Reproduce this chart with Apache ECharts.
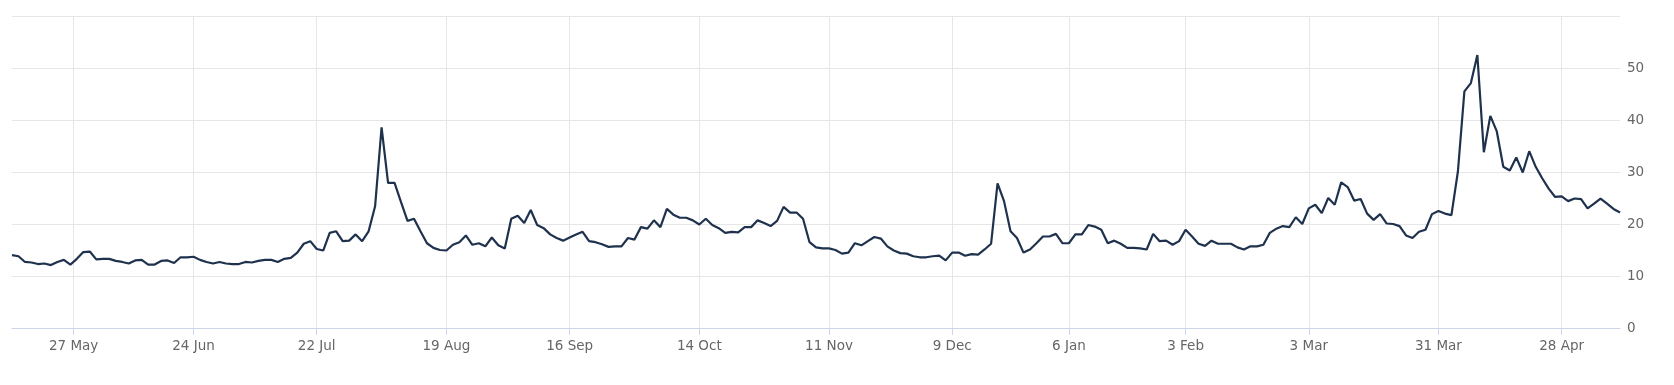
<!DOCTYPE html>
<html>
<head>
<meta charset="utf-8">
<script src="https://cdn.jsdelivr.net/npm/echarts@6/dist/echarts.min.js"></script>
<style>
  html, body { margin: 0; padding: 0; background: #ffffff; }
  #chart { width: 1674px; height: 385px; }
</style>
</head>
<body>
<div id="chart"></div>
<script>
// Trading days (categories)
const tradingDays = [
  "2024-05-13","2024-05-14","2024-05-15","2024-05-16","2024-05-17","2024-05-20","2024-05-21","2024-05-22","2024-05-23","2024-05-24","2024-05-28","2024-05-29","2024-05-30","2024-05-31",
  "2024-06-03","2024-06-04","2024-06-05","2024-06-06","2024-06-07","2024-06-10","2024-06-11","2024-06-12","2024-06-13","2024-06-14","2024-06-17","2024-06-18","2024-06-20","2024-06-21","2024-06-24","2024-06-25","2024-06-26","2024-06-27","2024-06-28",
  "2024-07-01","2024-07-02","2024-07-03","2024-07-05","2024-07-08","2024-07-09","2024-07-10","2024-07-11","2024-07-12","2024-07-15","2024-07-16","2024-07-17","2024-07-18","2024-07-19","2024-07-22","2024-07-23","2024-07-24","2024-07-25","2024-07-26","2024-07-29","2024-07-30","2024-07-31",
  "2024-08-01","2024-08-02","2024-08-05","2024-08-06","2024-08-07","2024-08-08","2024-08-09","2024-08-12","2024-08-13","2024-08-14","2024-08-15","2024-08-16","2024-08-19","2024-08-20","2024-08-21","2024-08-22","2024-08-23","2024-08-26","2024-08-27","2024-08-28","2024-08-29","2024-08-30",
  "2024-09-03","2024-09-04","2024-09-05","2024-09-06","2024-09-09","2024-09-10","2024-09-11","2024-09-12","2024-09-13","2024-09-16","2024-09-17","2024-09-18","2024-09-19","2024-09-20","2024-09-23","2024-09-24","2024-09-25","2024-09-26","2024-09-27","2024-09-30",
  "2024-10-01","2024-10-02","2024-10-03","2024-10-04","2024-10-07","2024-10-08","2024-10-09","2024-10-10","2024-10-11","2024-10-14","2024-10-15","2024-10-16","2024-10-17","2024-10-18","2024-10-21","2024-10-22","2024-10-23","2024-10-24","2024-10-25","2024-10-28","2024-10-29","2024-10-30","2024-10-31",
  "2024-11-01","2024-11-04","2024-11-05","2024-11-06","2024-11-07","2024-11-08","2024-11-11","2024-11-12","2024-11-13","2024-11-14","2024-11-15","2024-11-18","2024-11-19","2024-11-20","2024-11-21","2024-11-22","2024-11-25","2024-11-26","2024-11-27","2024-11-29",
  "2024-12-02","2024-12-03","2024-12-04","2024-12-05","2024-12-06","2024-12-09","2024-12-10","2024-12-11","2024-12-12","2024-12-13","2024-12-16","2024-12-17","2024-12-18","2024-12-19","2024-12-20","2024-12-23","2024-12-24","2024-12-26","2024-12-27","2024-12-30","2024-12-31",
  "2025-01-02","2025-01-03","2025-01-06","2025-01-07","2025-01-08","2025-01-10","2025-01-13","2025-01-14","2025-01-15","2025-01-16","2025-01-17","2025-01-21","2025-01-22","2025-01-23","2025-01-24","2025-01-27","2025-01-28","2025-01-29","2025-01-30","2025-01-31",
  "2025-02-03","2025-02-04","2025-02-05","2025-02-06","2025-02-07","2025-02-10","2025-02-11","2025-02-12","2025-02-13","2025-02-14","2025-02-18","2025-02-19","2025-02-20","2025-02-21","2025-02-24","2025-02-25","2025-02-26","2025-02-27","2025-02-28",
  "2025-03-03","2025-03-04","2025-03-05","2025-03-06","2025-03-07","2025-03-10","2025-03-11","2025-03-12","2025-03-13","2025-03-14","2025-03-17","2025-03-18","2025-03-19","2025-03-20","2025-03-21","2025-03-24","2025-03-25","2025-03-26","2025-03-27","2025-03-28","2025-03-31",
  "2025-04-01","2025-04-02","2025-04-03","2025-04-04","2025-04-07","2025-04-08","2025-04-09","2025-04-10","2025-04-11","2025-04-14","2025-04-15","2025-04-16","2025-04-17","2025-04-21","2025-04-22","2025-04-23","2025-04-24","2025-04-25","2025-04-28","2025-04-29","2025-04-30",
  "2025-05-01","2025-05-02","2025-05-05","2025-05-06","2025-05-07","2025-05-08","2025-05-09"
];

// Series values
const values = [
  14.0,13.8,12.7,12.6,12.3,12.4,12.1,12.7,13.1,12.2,13.3,14.6,14.7,13.2,
  13.3,13.3,12.9,12.7,12.4,13.0,13.1,12.2,12.2,12.9,13.0,12.5,13.6,13.6,13.7,13.1,12.7,12.4,12.7,
  12.4,12.3,12.3,12.7,12.6,12.9,13.1,13.1,12.7,13.3,13.5,14.5,16.2,16.7,15.2,14.9,18.3,18.6,16.7,16.8,18.0,16.7,
  18.6,23.4,38.6,27.9,27.9,24.2,20.6,21.0,18.6,16.3,15.4,15.0,14.9,16.0,16.5,17.8,16.0,16.3,15.7,17.4,15.9,15.3,
  21.0,21.6,20.2,22.7,19.8,19.2,18.0,17.3,16.8,17.4,18.0,18.5,16.7,16.5,16.1,15.6,15.7,15.7,17.3,17.0,
  19.4,19.1,20.7,19.4,22.9,21.8,21.2,21.2,20.7,19.9,21.0,19.8,19.2,18.3,18.5,18.4,19.4,19.4,20.7,20.2,19.6,20.6,23.3,
  22.2,22.2,21.0,16.5,15.5,15.3,15.3,15.0,14.3,14.5,16.3,15.9,16.7,17.5,17.2,15.7,14.9,14.4,14.3,13.8,
  13.6,13.6,13.8,13.9,13.0,14.5,14.5,13.9,14.2,14.1,15.1,16.2,27.8,24.4,18.6,17.3,14.5,15.1,16.3,17.6,17.6,
  18.1,16.3,16.3,18.0,18.0,19.8,19.5,18.9,16.3,16.8,16.2,15.4,15.4,15.3,15.1,18.1,16.7,16.8,16.0,16.7,
  18.9,17.6,16.2,15.8,16.8,16.2,16.2,16.2,15.5,15.1,15.7,15.7,16.0,18.3,19.1,19.6,19.4,21.3,20.0,
  23.0,23.7,22.1,25.0,23.7,28.0,27.1,24.5,24.8,22.0,20.8,21.9,20.1,20.0,19.6,17.8,17.3,18.5,18.9,21.9,22.5,
  22.0,21.7,30.1,45.5,47.1,52.5,33.8,40.8,37.8,31.0,30.3,32.8,29.9,34.0,31.0,28.8,26.8,25.2,25.3,24.4,24.9,
  24.8,23.0,23.9,24.9,23.9,22.9,22.2
];

// Tick labels and the dates they belong to
const tickDates = ["2024-05-27","2024-06-24","2024-07-22","2024-08-19","2024-09-16","2024-10-14","2024-11-11","2024-12-09","2025-01-06","2025-02-03","2025-03-03","2025-03-31","2025-04-28"];
const tickLabels = ["27 May","24 Jun","22 Jul","19 Aug","16 Sep","14 Oct","11 Nov","9 Dec","6 Jan","3 Feb","3 Mar","31 Mar","28 Apr"];

// Position of each tick on the trading-day axis (non-trading dates fall between neighbours)
const tickPos = tickDates.map(d => {
  const k = tradingDays.indexOf(d);
  if (k >= 0) return k;
  const next = tradingDays.findIndex(t => t > d);
  return next - 0.5;
});

const seriesData = values.map((v, i) => [i, v]);

const chart = echarts.init(document.getElementById('chart'), null, { renderer: 'canvas' });
const font = 'DejaVu Sans';
chart.setOption({
  animation: false,
  backgroundColor: '#ffffff',
  grid: { left: 12, right: 54, top: 16, bottom: 57, containLabel: false },
  xAxis: {
    type: 'value',
    min: 0,
    max: tradingDays.length - 1,
    axisLine: { show: true, lineStyle: { color: '#ccd6eb', width: 1 } },
    axisTick: { show: true, customValues: tickPos, length: 7, lineStyle: { color: '#ccd6eb' } },
    axisLabel: {
      customValues: tickPos,
      color: '#666666',
      fontSize: 13.5,
      fontFamily: font,
      margin: 11,
      formatter: function (v) {
        const j = tickPos.findIndex(p => Math.abs(p - v) < 1e-6);
        return j >= 0 ? tickLabels[j] : '';
      }
    },
    splitLine: { show: true, lineStyle: { color: '#e6e6e6', width: 1 } }
  },
  yAxis: {
    type: 'value',
    position: 'right',
    min: 0,
    max: 60,
    interval: 10,
    axisLine: { show: false },
    axisTick: { show: false },
    axisLabel: { color: '#666666', fontSize: 13.5, fontFamily: font, margin: 7, showMaxLabel: false },
    splitLine: { show: true, lineStyle: { color: '#e6e6e6', width: 1 } }
  },
  series: [{
    type: 'line',
    data: seriesData,
    showSymbol: false,
    lineStyle: { color: '#1f324d', width: 2.2 },
    itemStyle: { color: '#1f324d' }
  }]
});
</script>
</body>
</html>
